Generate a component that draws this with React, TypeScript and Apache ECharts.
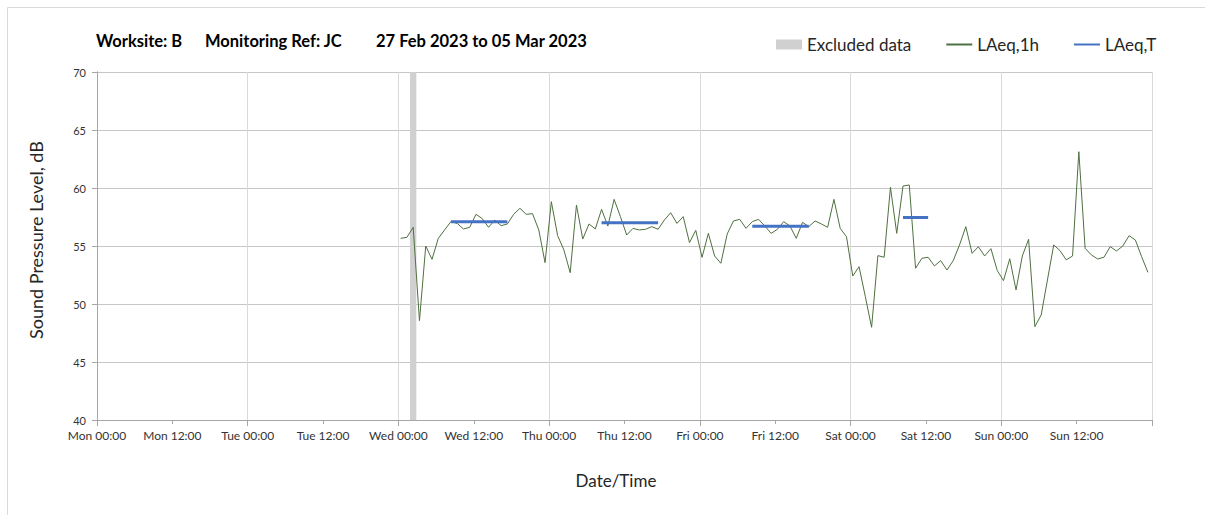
import React, { useEffect, useRef } from "react";
import * as echarts from "echarts";

// Hours are counted from Mon 27 Feb 2023 00:00
const tickLabels = [
  "Mon 00:00", "Mon 12:00", "Tue 00:00", "Tue 12:00", "Wed 00:00", "Wed 12:00",
  "Thu 00:00", "Thu 12:00", "Fri 00:00", "Fri 12:00", "Sat 00:00", "Sat 12:00",
  "Sun 00:00", "Sun 12:00",
];

// first hourly sample plotted at Wed 00:21 (hour 48.35), one sample per hour
const firstSampleHour = 48.35;
const laeq1h = [
  55.66, 55.75, 56.61, 48.56, 55.0, 53.85, 55.66, 56.38, 57.1, 56.95, 56.47, 56.61,
  57.73, 57.36, 56.61, 57.24, 56.75, 56.9, 57.73, 58.25, 57.73, 57.79, 56.38, 53.56,
  58.82, 55.9, 54.66, 52.7, 58.53, 55.6, 56.9, 56.47, 58.16, 56.72, 59.02, 57.53,
  55.95, 56.52, 56.38, 56.44, 56.67, 56.44, 57.24, 57.87, 56.95, 57.53, 55.29, 56.35,
  54.02, 56.09, 54.14, 53.51, 56.03, 57.16, 57.3, 56.52, 57.1, 57.3, 56.72, 56.09,
  56.44, 57.1, 56.72, 55.66, 57.04, 56.67, 57.16, 56.9, 56.61, 59.02, 56.52, 55.8,
  52.41, 53.22, 50.63, 47.99, 54.17, 54.03, 60.06, 56.09, 60.17, 60.26, 53.08, 53.94,
  54.03, 53.28, 53.74, 52.93, 53.74, 55.09, 56.67, 54.37, 54.94, 54.14, 54.77, 52.9,
  52.01, 53.9, 51.21, 54.14, 55.58, 48.05, 49.05, 52.07, 55.09, 54.6, 53.8, 54.14,
  63.13, 54.8, 54.23, 53.88, 54.03, 54.94, 54.57, 55.0, 55.89, 55.52, 54.08, 52.73,
];

// LAeq,T assessment periods (start hour, end hour, level)
const periodStarts = [56.35, 80.35, 104.35, 128.35];
const periodEnds = [65.35, 89.35, 113.35, 132.35];
const periodLevels = [57.1, 57.0, 56.7, 57.45];

// excluded data window
const excludedStart = 49.85;
const excludedEnd = 50.85;

const FONT = "Lato, 'Open Sans', sans-serif";
const GREEN = "#4f7040";
const BLUE = "#4472c4";
const GREY = "#d0d0d0";

export default function App() {
  const ref = useRef<HTMLDivElement>(null);

  useEffect(() => {
    if (!ref.current) return;
    const chart = echarts.init(ref.current, undefined, { renderer: "svg" });

    const lineData = laeq1h.map((v, i) => [firstSampleHour + i, v]);
    const periodSeries = periodLevels.map((lvl, i) => ({
      name: "LAeq,T",
      type: "line",
      data: [
        [periodStarts[i], lvl],
        [periodEnds[i], lvl],
      ],
      symbol: "none",
      lineStyle: { color: BLUE, width: 3 },
      itemStyle: { color: BLUE },
      z: 4,
    }));

    chart.setOption({
      animation: false,
      backgroundColor: "#ffffff",
      textStyle: { fontFamily: FONT },
      grid: { left: 97, right: 53, top: 72, bottom: 95, containLabel: false },
      legend: {
        left: 776,
        top: 36,
        padding: 0,
        itemWidth: 26,
        itemHeight: 10,
        itemGap: 34,
        selectedMode: false,
        textStyle: { fontFamily: FONT, fontSize: 17, color: "#262626" },
        data: [
          { name: "Excluded data", icon: "rect" },
          { name: "LAeq,1h", itemStyle: { color: "rgba(0,0,0,0)", borderWidth: 0 } },
          { name: "LAeq,T", itemStyle: { color: "rgba(0,0,0,0)", borderWidth: 0 } },
        ],
      },
      xAxis: [
        {
          type: "value",
          min: 0,
          max: 168,
          interval: 12,
          axisLine: { show: true, lineStyle: { color: "#a6a6a6", width: 1 } },
          axisTick: { show: true, length: 4, lineStyle: { color: "#a6a6a6" } },
          axisLabel: {
            fontFamily: FONT,
            fontSize: 12,
            color: "#333333",
            margin: 9,
            showMaxLabel: false,
            formatter: (v: number) => tickLabels[Math.round(v / 12)] ?? "",
          },
          splitLine: { show: false },
        },
        {
          type: "value",
          position: "bottom",
          min: 0,
          max: 168,
          interval: 24,
          axisLine: { show: false },
          axisTick: { show: true, length: 6, lineStyle: { color: "#a6a6a6" } },
          axisLabel: { show: false },
          splitLine: { show: true, lineStyle: { color: "#d9d9d9", width: 1 } },
        },
      ],
      yAxis: [
        {
          type: "value",
          min: 40,
          max: 70,
          interval: 5,
          axisLine: { show: true, lineStyle: { color: "#a6a6a6" } },
          axisTick: { show: true, length: 5, lineStyle: { color: "#a6a6a6" } },
          axisLabel: { fontFamily: FONT, fontSize: 11, color: "#333333", margin: 11 },
          splitLine: { show: true, lineStyle: { color: "#c6c6c6", width: 1 } },
        },
        {
          type: "value",
          position: "right",
          min: 40,
          max: 70,
          interval: 5,
          axisLine: { show: true, lineStyle: { color: "#a6a6a6" } },
          axisTick: { show: false },
          axisLabel: { show: false },
          splitLine: { show: false },
        },
      ],
      series: [
        {
          name: "Excluded data",
          type: "line",
          data: [],
          symbol: "none",
          itemStyle: { color: GREY },
          lineStyle: { color: GREY },
          z: 1,
          markArea: {
            silent: true,
            itemStyle: { color: GREY },
            data: [[{ xAxis: excludedStart, yAxis: 40 }, { xAxis: excludedEnd, yAxis: 70 }]],
          },
        },
        {
          name: "LAeq,1h",
          type: "line",
          data: lineData,
          symbol: "none",
          lineStyle: { color: GREEN, width: 1 },
          itemStyle: { color: GREEN },
          z: 3,
        },
        ...periodSeries,
      ],
      graphic: [
        { type: "line", shape: { x1: 7.5, y1: 7.5, x2: 1205, y2: 7.5 }, style: { stroke: "#d9d9d9", lineWidth: 1 } },
        { type: "line", shape: { x1: 7.5, y1: 7.5, x2: 7.5, y2: 515 }, style: { stroke: "#d9d9d9", lineWidth: 1 } },
        {
          type: "text",
          x: 96,
          y: 41,
          style: { text: "Worksite: B", font: `bold 16.5px ${FONT}`, fill: "#000000", textVerticalAlign: "middle" },
        },
        {
          type: "text",
          x: 205,
          y: 41,
          style: { text: "Monitoring Ref: JC", font: `bold 16.5px ${FONT}`, fill: "#000000", textVerticalAlign: "middle" },
        },
        {
          type: "text",
          x: 376,
          y: 41,
          style: { text: "27 Feb 2023 to 05 Mar 2023", font: `bold 16.5px ${FONT}`, fill: "#000000", textVerticalAlign: "middle" },
        },
        {
          type: "text",
          x: 36,
          y: 240,
          rotation: Math.PI / 2,
          style: {
            text: "Sound Pressure Level, dB",
            font: `18px ${FONT}`,
            fill: "#262626",
            textAlign: "center",
            textVerticalAlign: "middle",
          },
        },
        {
          type: "text",
          x: 616,
          y: 480,
          style: {
            text: "Date/Time",
            font: `17px ${FONT}`,
            fill: "#262626",
            textAlign: "center",
            textVerticalAlign: "middle",
          },
        },
      ],
    });

    return () => chart.dispose();
  }, []);

  return (
    <div
      ref={ref}
      style={{ position: "absolute", left: 0, top: 0, width: 1205, height: 515 }}
    />
  );
}
